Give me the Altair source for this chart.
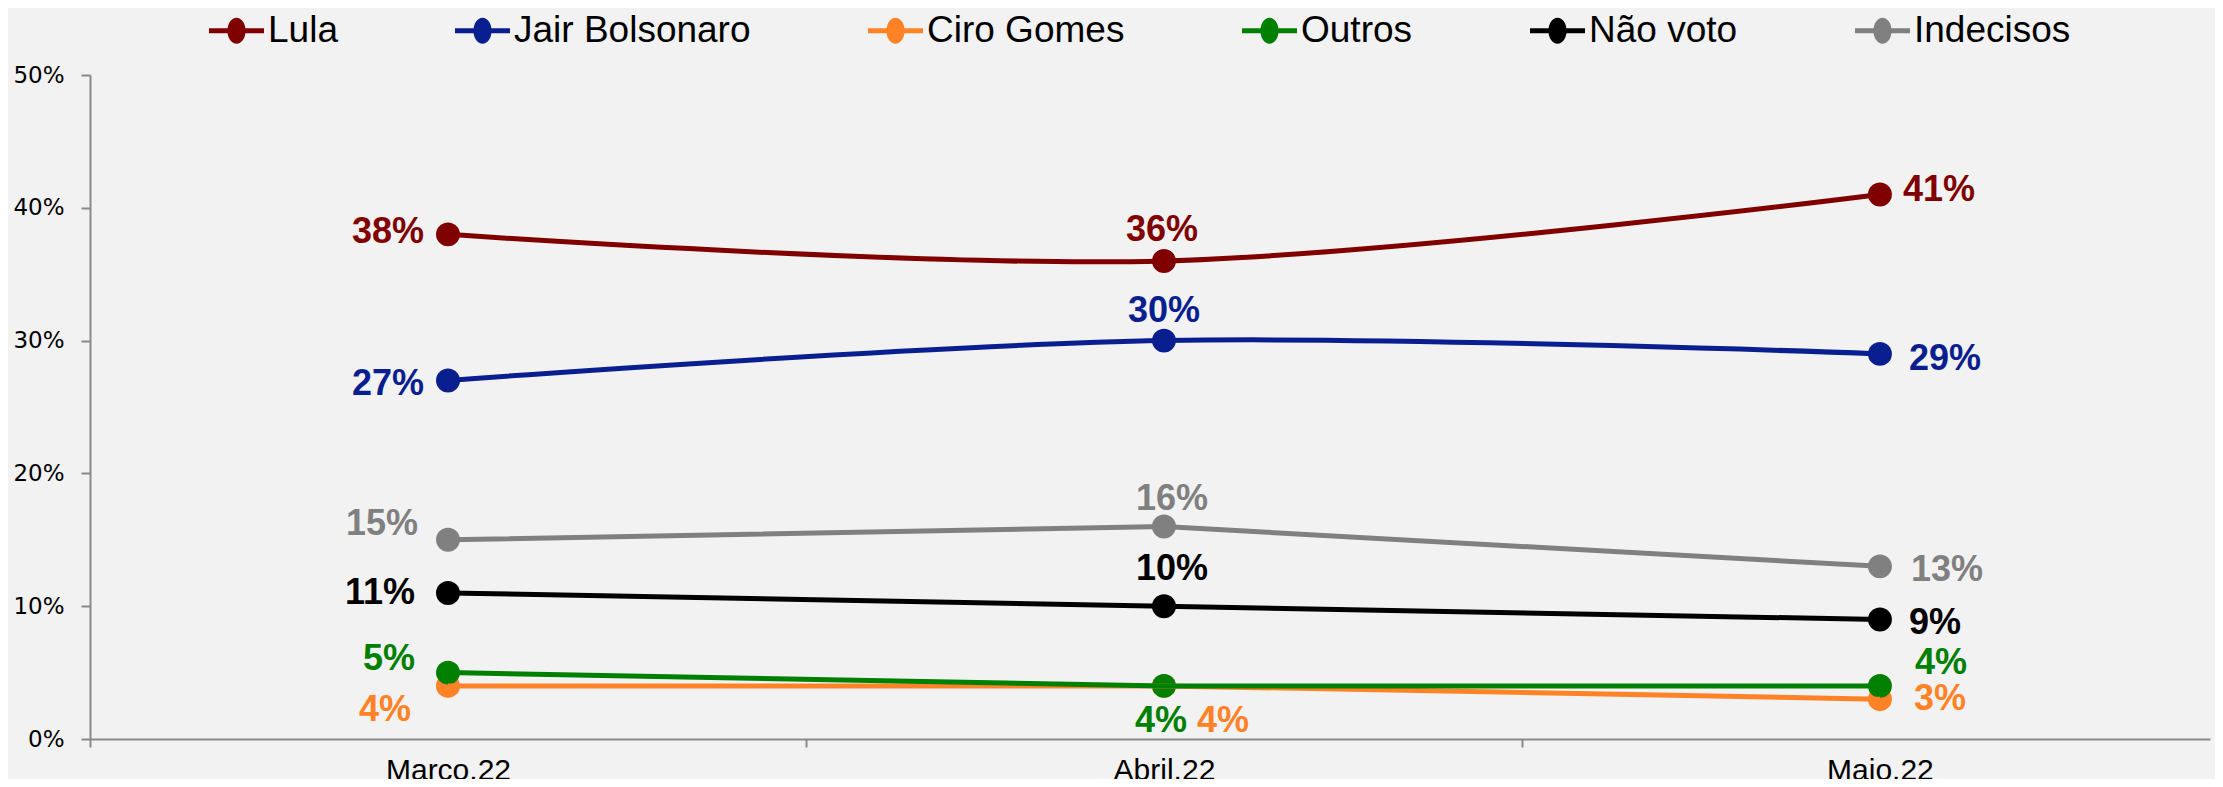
import json
import math
import altair as alt
import pandas as pd

# ---------------- data ----------------
months = ["Março.22", "Abril.22", "Maio.22"]
series = ["Lula", "Jair Bolsonaro", "Ciro Gomes", "Outros", "Não voto", "Indecisos"]
lula = [38, 36, 41]
bolsonaro = [27, 30, 29]
ciro = [4, 4, 3]
outros = [5, 4, 4]
nao_voto = [11, 10, 9]
indecisos = [15, 16, 13]
y_ticks = [0, 10, 20, 30, 40, 50]

# ---------------- styles ----------------
colors = ["#800000", "#0A1F8F", "#FF8226", "#008000", "#000000", "#808080"]
smooth_series = ["Lula", "Jair Bolsonaro"]
BG = "#F2F2F2"
AXIS_GRAY = "#898989"

# label placement per month: alignment and (dx, cap-centre dy) per series
label_pos = {
    "Março.22": ("right", {"Lula": (-24, -4), "Jair Bolsonaro": (-24, 2), "Ciro Gomes": (-37, 22),
                           "Outros": (-33, -16), "Não voto": (-33, -2), "Indecisos": (-30, -18)}),
    "Abril.22": ("center", {"Lula": (-2, -33), "Jair Bolsonaro": (0, -32), "Ciro Gomes": (59, 33),
                            "Outros": (-3, 33), "Não voto": (8, -39), "Indecisos": (8, -30)}),
    "Maio.22": ("left", {"Lula": (23, -7), "Jair Bolsonaro": (29, 3), "Ciro Gomes": (34, -2),
                         "Outros": (35, -25), "Não voto": (29, 2), "Indecisos": (31, 2)}),
}

values_by_series = [lula, bolsonaro, ciro, outros, nao_voto, indecisos]
rows = []
for s_i, (s, vals) in enumerate(zip(series, values_by_series)):
    for m_i, (m, v) in enumerate(zip(months, vals)):
        rows.append({"serie": s, "ordem": s_i, "mes": m, "idx": m_i, "valor": v})
df = pd.DataFrame(rows)

months_js = json.dumps(months, ensure_ascii=False)

PLOT_W, PLOT_H = 2120, 664
x_scale = alt.Scale(domain=[-0.5, 2.461], nice=False, zero=False)
x_axis = alt.Axis(
    title=None,
    values=[-0.5, 0, 0.5, 1, 1.5, 2],
    labelExpr=f"datum.value % 1 === 0 ? {months_js}[datum.value] : ''",
    tickOpacity={"condition": {"test": "datum.value % 1 !== 0", "value": 1}, "value": 0},
    tickSize=8, tickWidth=2, tickColor=AXIS_GRAY,
    domainColor=AXIS_GRAY, domainWidth=2,
    labelFont="Liberation Sans", labelFontSize=30, labelColor="black",
    labelPadding=8, labelFlush=False, labelOverlap=False, labelBound=False,
    labelAlign="center", grid=False,
)
y_axis = alt.Axis(
    title=None, values=y_ticks, labelExpr="datum.value + '%'",
    tickSize=9, tickWidth=2, tickColor=AXIS_GRAY,
    domainColor=AXIS_GRAY, domainWidth=2,
    labelFont="DejaVu Sans", labelFontSize=23, labelColor="black",
    labelPadding=17, grid=False,
)
X = alt.X("idx:Q", scale=x_scale, axis=x_axis)
Y = alt.Y("valor:Q", scale=alt.Scale(domain=[0, 50], nice=False, zero=True), axis=y_axis)


# legend symbol: a short line with an elliptical marker, as one closed outline
def legend_symbol_path(half_th=0.09, rx=0.33, ry=0.47, steps=14):
    d = math.asin(half_th / ry)
    xi = rx * math.cos(d)
    pts = [(-1, -half_th), (-xi, -half_th)]
    for k in range(steps + 1):
        t = math.pi + d + (math.pi - 2 * d) * k / steps
        pts.append((rx * math.cos(t), ry * math.sin(t)))
    pts += [(1, -half_th), (1, half_th), (xi, half_th)]
    for k in range(steps + 1):
        t = d + (math.pi - 2 * d) * k / steps
        pts.append((rx * math.cos(t), ry * math.sin(t)))
    pts += [(-1, half_th)]
    s = "M" + "L".join(f"{x:.3f},{y:.3f}" for x, y in pts) + "Z"
    return s


legend = alt.Legend(
    orient="none", legendX=119, legendY=-72, direction="horizontal", title=None,
    symbolType=legend_symbol_path(), symbolSize=3025, symbolStrokeWidth=0, symbolOpacity=1,
    labelFont="Liberation Sans", labelFontSize=37, labelColor="black",
    labelOffset=4, columnPadding=117, labelLimit=600,
)
FILL_LEG = alt.Fill("serie:N", scale=alt.Scale(domain=series, range=colors), legend=legend)
FILL_TXT = alt.Fill("serie:N", scale=alt.Scale(domain=series, range=colors), legend=None)
STROKE = alt.Stroke("serie:N", scale=alt.Scale(domain=series, range=colors), legend=None)

base = alt.Chart(df)

points = base.mark_circle(size=573, opacity=1).encode(x=X, y=Y, fill=FILL_LEG, order="ordem:Q")

smooth_lines = base.transform_filter(
    alt.FieldOneOfPredicate(field="serie", oneOf=smooth_series)
).mark_line(interpolate="catmull-rom", strokeWidth=5).encode(
    x=X, y=Y, stroke=STROKE, order="idx:Q"
)
straight_lines = base.transform_filter(
    {"not": alt.FieldOneOfPredicate(field="serie", oneOf=smooth_series)}
).mark_line(strokeWidth=5).encode(
    x=X, y=Y, stroke=STROKE, order="idx:Q"
)

text_layers = []
for m_i, m in enumerate(months):
    align, offs = label_pos[m]
    for s in series:
        dx, dy = offs[s]
        t = base.transform_filter(
            (alt.datum.serie == s) & (alt.datum.idx == m_i)
        ).transform_calculate(
            rotulo="datum.valor + '%'"
        ).mark_text(
            font="Liberation Sans", fontWeight="bold", fontSize=36,
            baseline="middle", align=align, dx=dx, dy=dy + 2,
        ).encode(x=X, y=Y, text="rotulo:N", fill=FILL_TXT)
        text_layers.append(t)

chart = alt.layer(points, smooth_lines, straight_lines, *text_layers).properties(
    width=PLOT_W, height=PLOT_H,
    autosize=alt.AutoSizeParams(type="none"),
    padding={"left": 82, "top": 67, "right": 5, "bottom": 40},
).configure(background=BG).configure_view(strokeWidth=0)

chart.save("out.html", embed_options={"renderer": "svg", "actions": False})
